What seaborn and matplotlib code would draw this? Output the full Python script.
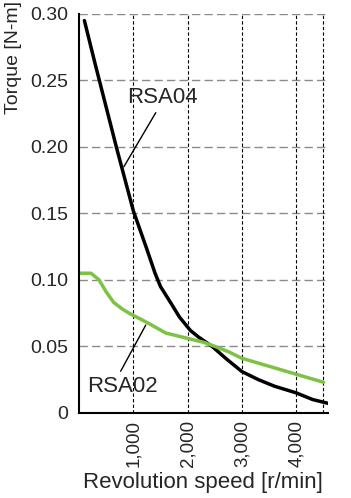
import matplotlib.pyplot as plt
import seaborn as sns
import numpy as np
import pandas as pd

# Torque curves
speed_rsa04 = [100, 300, 500, 700, 850, 1000, 1250, 1400, 1500, 1700, 1850, 2050, 2200, 2450, 2700, 3000, 3300, 3600, 4000, 4300, 4600]
torque_rsa04 = [0.295, 0.262, 0.230, 0.198, 0.175, 0.152, 0.123, 0.105, 0.095, 0.082, 0.072, 0.062, 0.057, 0.050, 0.041, 0.031, 0.025, 0.020, 0.015, 0.010, 0.007]

speed_rsa02 = [0, 220, 370, 500, 640, 800, 920, 1250, 1600, 2000, 2300, 2500, 2750, 3000, 3500, 4000, 4500]
torque_rsa02 = [0.105, 0.105, 0.100, 0.091, 0.083, 0.078, 0.075, 0.068, 0.060, 0.056, 0.053, 0.050, 0.046, 0.041, 0.035, 0.029, 0.023]

x_ticks = [1000, 2000, 3000, 4000]
x_labels = ["1,000", "2,000", "3,000", "4,000"]
y_ticks = [0, 0.05, 0.10, 0.15, 0.20, 0.25, 0.30]
y_labels = ["0", "0.05", "0.10", "0.15", "0.20", "0.25", "0.30"]

df = pd.concat([
    pd.DataFrame({"speed": speed_rsa04, "torque": torque_rsa04, "model": "RSA04"}),
    pd.DataFrame({"speed": speed_rsa02, "torque": torque_rsa02, "model": "RSA02"}),
])

sns.set_style("white")
plt.rcParams["font.family"] = ["Liberation Sans", "DejaVu Sans"]

fig = plt.figure(figsize=(3.51, 4.98), dpi=100)
ax = fig.add_axes([0.225, 0.171, 0.709, 0.801])

# grid lines
for yv in y_ticks[1:]:
    ax.axhline(yv, color="#8a8a8a", linestyle=(0, (6, 3)), linewidth=1.0, zorder=0)
for xv in x_ticks + [4500]:
    ax.axvline(xv, color="black", linestyle=(0, (3, 2)), linewidth=0.8, zorder=0)

sns.lineplot(data=df, x="speed", y="torque", hue="model",
             palette={"RSA04": "black", "RSA02": "#7dc242"},
             linewidth=2.5, legend=False, ax=ax, sort=False)

ax.annotate("RSA04", xy=(825, 0.185), xytext=(890, 0.237),
            fontsize=16, va="center", ha="left",
            arrowprops=dict(arrowstyle="-", color="black", lw=1.0,
                            shrinkA=1, shrinkB=0, relpos=(0.44, 0.0)))
ax.annotate("RSA02", xy=(1229, 0.066), xytext=(150, 0.020),
            fontsize=16, va="center", ha="left",
            arrowprops=dict(arrowstyle="-", color="black", lw=1.0,
                            shrinkA=1, shrinkB=0, relpos=(0.44, 1.0)))

ax.set_xlim(0, 4580)
ax.set_ylim(0, 0.30)
ax.set_xticks(x_ticks)
ax.set_xticklabels(x_labels, rotation=90, fontsize=13.5)
ax.set_yticks(y_ticks)
ax.set_yticklabels(y_labels, fontsize=14)
ax.tick_params(length=0)
ax.tick_params(axis="y", pad=8)
ax.tick_params(axis="x", pad=5)
ax.set_xlabel("Revolution speed [r/min]", fontsize=16, labelpad=4)
ax.set_ylabel("Torque [N-m]", fontsize=14,
              family=["Liberation Sans Narrow", "Liberation Sans"])
ax.yaxis.set_label_coords(-0.228, 0.89)

for side in ["top", "right"]:
    ax.spines[side].set_visible(False)
for side in ["left", "bottom"]:
    ax.spines[side].set_color("black")
    ax.spines[side].set_linewidth(1.5)

plt.savefig("out.png", dpi=100)
